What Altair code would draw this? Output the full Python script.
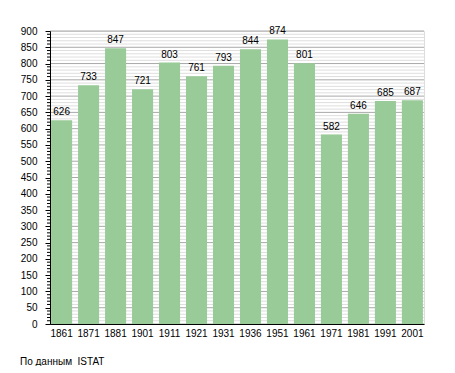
import altair as alt
import pandas as pd

years = ["1861", "1871", "1881", "1901", "1911", "1921", "1931", "1936",
         "1951", "1961", "1971", "1981", "1991", "2001"]
population = [626, 733, 847, 721, 803, 761, 793, 844, 874, 801, 582, 646, 685, 687]
major_ticks = list(range(0, 901, 50))
minor_ticks = [v for v in range(0, 901, 10) if v % 50 != 0]
source_note = "По данным\u00a0 ISTAT"

df = pd.DataFrame({"year": years, "pop": population})
minor_df = pd.DataFrame({"v": minor_ticks})
major_df = pd.DataFrame({"v": major_ticks})

FONT = "Liberation Sans"
W, H = 374, 293

yscale = alt.Scale(domain=[0, 900], nice=False, zero=True)
y_axis = alt.Axis(values=major_ticks, domainColor="black", tickColor="black",
                  tickSize=5, labelColor="black", labelFont=FONT,
                  labelFontSize=10, labelPadding=8, labelOverlap=False,
                  grid=False, zindex=1)

def yenc(field):
    return alt.Y(field, scale=yscale, axis=y_axis, title=None)

minor_grid = alt.Chart(minor_df).mark_rule(color="#dedede", strokeWidth=1).encode(
    y=yenc("v:Q"), x=alt.value(0), x2=alt.value(W))
major_grid = alt.Chart(major_df).mark_rule(color="#a8a8a8", strokeWidth=1).encode(
    y=yenc("v:Q"), x=alt.value(0), x2=alt.value(W))
minor_tk = alt.Chart(minor_df).mark_rule(color="black", strokeWidth=1).encode(
    y=yenc("v:Q"), x=alt.value(-3), x2=alt.value(0))

x_axis = alt.Axis(labelAngle=0, ticks=False, domainColor="black",
                  labelColor="black", labelFont=FONT, labelFontSize=10,
                  labelPadding=4, grid=False, zindex=1)
xscale = alt.Scale(paddingInner=0.22, paddingOuter=0.04)

bars = alt.Chart(df).mark_bar(color="#98cb98").encode(
    x=alt.X("year:N", sort=years, title=None, scale=xscale, axis=x_axis),
    y=yenc("pop:Q"))

labels = alt.Chart(df).mark_text(font=FONT, fontSize=10, color="black",
                                 baseline="alphabetic", dy=-5).encode(
    x=alt.X("year:N", sort=years, title=None, scale=xscale, axis=x_axis),
    y=yenc("pop:Q"), text="pop:Q")

note = alt.Chart(pd.DataFrame({"t": [source_note]})).mark_text(
    font=FONT, fontSize=10, color="black", align="left", baseline="middle").encode(
    x=alt.value(-30), y=alt.value(331), text="t:N")

chart = alt.layer(minor_grid, major_grid, bars, minor_tk, labels, note).properties(
    width=W, height=H,
    autosize=alt.AutoSizeParams(type="none"),
    padding={"left": 42, "top": 23, "right": 23, "bottom": 42},
).configure_view(stroke=None).configure(background="white")

chart.save("out.html", embed_options={"renderer": "svg", "actions": False})
